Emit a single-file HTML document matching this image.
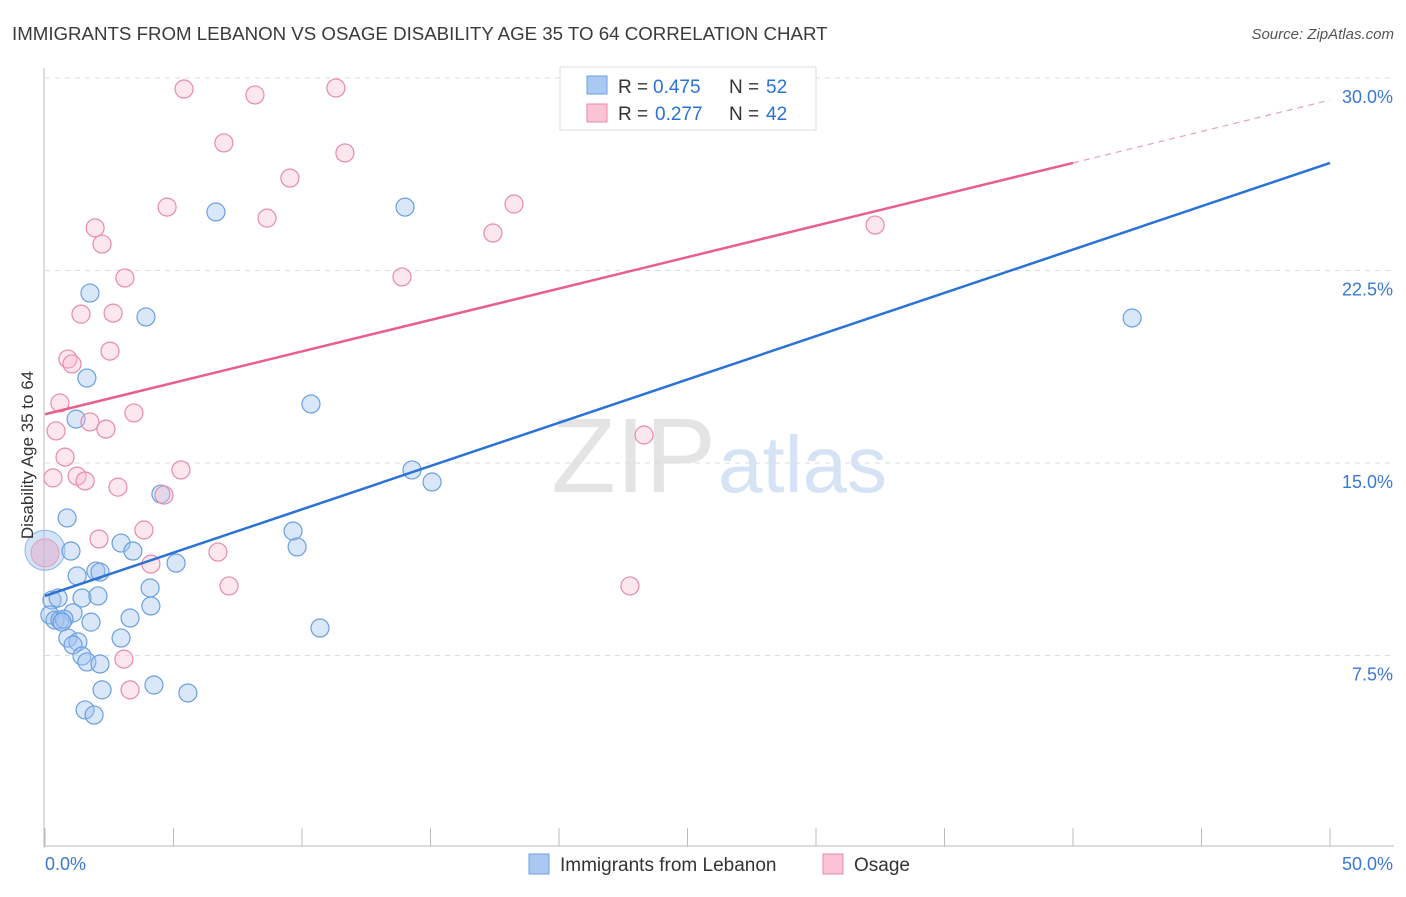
<!DOCTYPE html>
<html><head><meta charset="utf-8"><style>
body{margin:0;background:#fff;font-family:"Liberation Sans",sans-serif}
svg text{font-family:"Liberation Sans",sans-serif}
</style></head><body>
<svg id="chart" width="1406" height="892">
<text x="12" y="40" font-size="18.7" fill="#3a3a3a">IMMIGRANTS FROM LEBANON VS OSAGE DISABILITY AGE 35 TO 64 CORRELATION CHART</text>
<text x="1394" y="39" font-size="15" fill="#555" font-style="italic" text-anchor="end">Source: ZipAtlas.com</text>
<text x="716" y="492" font-size="106" fill="#e4e4e4" text-anchor="end" font-family="Liberation Serif">ZIP</text>
<text x="718" y="492" font-size="80" fill="#d6e3f5">atlas</text>
<g id="grid"></g><g id="axes"></g><g id="pts"></g><g id="lines"></g>
<text transform="translate(33,455) rotate(-90)" font-size="17" fill="#333" text-anchor="middle">Disability Age 35 to 64</text>
<g>
<rect x="560" y="67" width="256" height="63" fill="#fff" stroke="#ddd"/>
<rect x="587" y="76" width="20" height="18" fill="#a9c9f3" stroke="#6a9fe0"/>
<text x="618" y="93" font-size="19" fill="#333">R =</text>
<text x="653" y="93" font-size="19" fill="#2a72d5">0.475</text>
<text x="729" y="93" font-size="19" fill="#333">N =</text>
<text x="766" y="93" font-size="19" fill="#2a72d5">52</text>
<rect x="587" y="104" width="20" height="18" fill="#fac4d4" stroke="#e88aaa"/>
<text x="618" y="120" font-size="19" fill="#333">R =</text>
<text x="655" y="120" font-size="19" fill="#2a72d5">0.277</text>
<text x="729" y="120" font-size="19" fill="#333">N =</text>
<text x="766" y="120" font-size="19" fill="#2a72d5">42</text>
</g>
<g>
<rect x="529" y="854" width="20" height="20" fill="#a9c9f3" stroke="#6a9fe0"/>
<text x="560" y="871" font-size="19" fill="#333">Immigrants from Lebanon</text>
<rect x="823" y="854" width="20" height="20" fill="#fac4d4" stroke="#e88aaa"/>
<text x="854" y="871" font-size="19" fill="#333">Osage</text>
</g>
</svg>
<script>
const yTicks=[7.5,15,22.5,30];
const yTickLabels=["7.5%","15.0%","22.5%","30.0%"];
const xTickVals=[0,5,10,15,20,25,30,35,40,45,50];
const blueX=[6.65,14.01,1.75,3.93,42.3,1.63,10.35,1.21,14.28,15.06,4.51,0.86,9.65,9.81,2.96,3.42,1.01,5.10,1.25,1.98,2.14,4.09,1.44,2.06,4.12,0.27,0.51,1.09,3.31,0.19,0.39,0.58,0.74,0.66,1.79,10.70,0.89,1.28,2.96,1.09,1.44,1.63,2.14,2.22,4.24,5.56,1.56,1.91];
const blueY=[24.78,24.97,21.62,20.69,20.65,18.31,17.30,16.71,14.73,14.26,13.79,12.86,12.35,11.73,11.88,11.57,11.57,11.10,10.60,10.79,10.75,10.13,9.74,9.82,9.43,9.66,9.74,9.16,8.96,9.08,8.88,8.88,8.92,8.80,8.80,8.57,8.18,8.03,8.18,7.91,7.48,7.25,7.17,6.16,6.35,6.04,5.38,5.18];
const pinkX=[5.41,8.17,11.32,6.96,11.67,9.53,4.75,8.64,18.25,17.43,32.30,1.95,2.22,3.11,13.89,1.40,2.65,2.53,0.89,1.05,0.58,3.46,1.75,2.37,0.43,23.31,0.78,5.29,0.31,1.25,1.56,2.84,4.63,3.85,2.10,6.73,4.12,7.16,22.76,3.07,3.31];
const pinkY=[29.57,29.34,29.61,27.47,27.08,26.10,24.97,24.54,25.09,23.96,24.27,24.16,23.53,22.21,22.25,20.80,20.84,19.36,19.05,18.86,17.34,16.95,16.60,16.32,16.25,16.09,15.23,14.73,14.42,14.49,14.30,14.06,13.75,12.39,12.04,11.53,11.06,10.21,10.21,7.36,6.16];
const blueLine=[9.82,26.69];
const pinkLine=[16.9,29.14];
const pinkSolidEnd=40;
const NS="http://www.w3.org/2000/svg";
const sx=v=>45+v/50*1285, sy=v=>848-v/30*770;
function mk(t,a,p){const e=document.createElementNS(NS,t);for(const k in a)e.setAttribute(k,a[k]);document.getElementById(p).appendChild(e);return e;}
yTicks.forEach((v,i)=>{
 const l=mk('line',{x1:45,x2:1394,y1:sy(v),y2:sy(v),stroke:'#ddd','stroke-dasharray':'5,5'},'grid');
 
 
 const t=mk('text',{x:1393,y:sy(v)+25,'font-size':18,fill:'#3a78d4','text-anchor':'end'},'axes');t.textContent=yTickLabels[i];
 
 
});
const ax=mk('line',{x1:44,x2:44,y1:68,y2:848,stroke:'#bbb'},'axes');


const bx=mk('line',{x1:44,x2:1394,y1:846,y2:846,stroke:'#bbb'},'axes');


xTickVals.forEach(v=>{const t=mk('line',{x1:sx(v),x2:sx(v),y1:828,y2:846,stroke:'#bbb'},'axes');
 
 });
const x0=mk('text',{x:45,y:870,'font-size':18,fill:'#3a78d4'},'axes');x0.textContent='0.0%';


const x1=mk('text',{x:1393,y:870,'font-size':18,fill:'#3a78d4','text-anchor':'end'},'axes');x1.textContent='50.0%';


function big(x,y,r,f,s){const c=mk('circle',{cx:sx(x),cy:sy(y),r:r,fill:f,stroke:s},'pts');
 
 }
big(0,11.6,20,'rgba(160,196,240,0.45)','#8db6e8');
big(0,11.5,14,'rgba(230,170,200,0.5)','#e3a0bb');
blueX.forEach((x,i)=>{const c=mk('circle',{cx:sx(x),cy:sy(blueY[i]),r:9,fill:'rgba(160,196,240,0.4)',stroke:'#6a9fe0','stroke-width':1.2},'pts');
 
 });
pinkX.forEach((x,i)=>{const c=mk('circle',{cx:sx(x),cy:sy(pinkY[i]),r:9,fill:'rgba(248,185,205,0.35)',stroke:'#e88aaa','stroke-width':1.2},'pts');
 
 });
const bl=mk('line',{x1:sx(0),y1:sy(blueLine[0]),x2:sx(50),y2:sy(blueLine[1]),stroke:'#2a72d5','stroke-width':2.5},'lines');


const py=x=>pinkLine[0]+(pinkLine[1]-pinkLine[0])*x/50;
const pl=mk('line',{x1:sx(0),y1:sy(py(0)),x2:sx(pinkSolidEnd),y2:sy(py(pinkSolidEnd)),stroke:'#e8608a','stroke-width':2.5},'lines');


const pd=mk('line',{x1:sx(pinkSolidEnd),y1:sy(py(pinkSolidEnd)),x2:sx(50),y2:sy(py(50)),stroke:'#e8a0b8','stroke-width':1.2,'stroke-dasharray':'6,5'},'lines');


</script>
</body></html>
